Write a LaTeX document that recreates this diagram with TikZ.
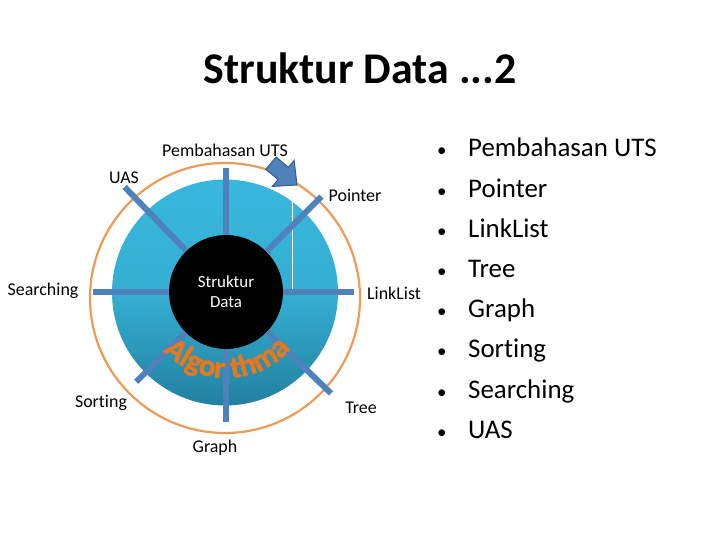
\documentclass[tikz,border=0pt]{standalone}
\usepackage{fontspec}
\setmainfont[Ligatures=NoCommon]{Carlito}
\newfontfamily\algofont[FakeBold=1.6]{Carlito Bold}
\usetikzlibrary{decorations.text}

\definecolor{ringorange}{RGB}{237,155,85}
\definecolor{spokeblue}{RGB}{79,129,189}
\definecolor{spokedark}{RGB}{56,93,138}
\definecolor{discTop}{RGB}{56,183,220}
\definecolor{discBot}{RGB}{34,128,160}
\definecolor{algo}{RGB}{232,120,30}

\tikzset{
  spoke/.style={draw=spokeblue, line width=6bp},
  hub/.style={circle, fill=black, minimum size=114bp, inner sep=0pt,
    text=white, align=center, font=\fontsize{17}{20}\selectfont},
  lbl/.style={inner sep=0pt, font=\fontsize{18}{20}\selectfont},
  item/.style={inner sep=0pt, anchor=base west, font=\fontsize{27}{30}\selectfont},
}

\begin{document}
\begin{tikzpicture}[x=1bp, y=1bp]
  \useasboundingbox (0,0) rectangle (720,540);

  % title
  \node[font=\fontsize{44}{48}\selectfont\bfseries] (title) at (360,472) {Struktur Data ...2};

  % wheel
  \coordinate (hubc) at (226,248);
  \draw[ringorange, line width=2.2bp] (225,242) circle[radius=135];
  \shade[top color=discTop, bottom color=discBot, middle color=discTop!85!discBot]
    (225,247.5) circle[radius=113];
  \draw[white, line width=0.8bp] (292,338) -- (292,245);
  \node[hub] (hub) at (hubc) {Struktur\\Data};
  \foreach \ang/\len/\nm in {90/124/uts, 45/135/ptr, 0/128/lnk, 316/146/tree,
      270/130/graph, 225/127/sort, 180/133/srch, 134/146/uas} {
    \coordinate (\nm) at ([shift={(\ang:\len)}]hubc);
    \draw[spoke] (hub) -- (\nm);
  }

  % curved word
  \path[decorate, decoration={text along path, text align=center,
      text={|\algofont\fontsize{31}{31}\selectfont\color{algo}|Algor thma}}]
    ([shift={(214:86)}]hubc) arc[start angle=214, end angle=328, radius=86];

  % block arrow
  \draw[spokedark, fill=spokeblue, line width=1bp, shift={(297,355)}, rotate=-40]
    (-34,-8) -- (-18,-8) -- (-18,-17) -- (0,0) -- (-18,17) -- (-18,8) -- (-34,8) -- cycle;

  % labels
  \node[lbl] (lUTS) at (225,390) {Pembahasan UTS};
  \node[lbl] (lUAS) at (124,362) {UAS};
  \node[lbl] (lPtr) at (355,345) {Pointer};
  \node[lbl] (lSrch) at (43,249) {Searching};
  \node[lbl] (lLnk) at (394,247) {LinkList};
  \node[lbl] (lTree) at (361,132) {Tree};
  \node[lbl] (lSort) at (101,137) {Sorting};
  \node[lbl] (lGraph) at (215,92) {Graph};

  % list
  \foreach \t [count=\i from 0] in {Pembahasan UTS, Pointer, LinkList, Tree,
      Graph, Sorting, Searching, UAS} {
    \node[item] (it\i) at (437,383-40.2*\i)
      {\makebox[31bp][l]{\fontsize{19}{20}\selectfont\textbullet}\t};
  }
\end{tikzpicture}
\end{document}
